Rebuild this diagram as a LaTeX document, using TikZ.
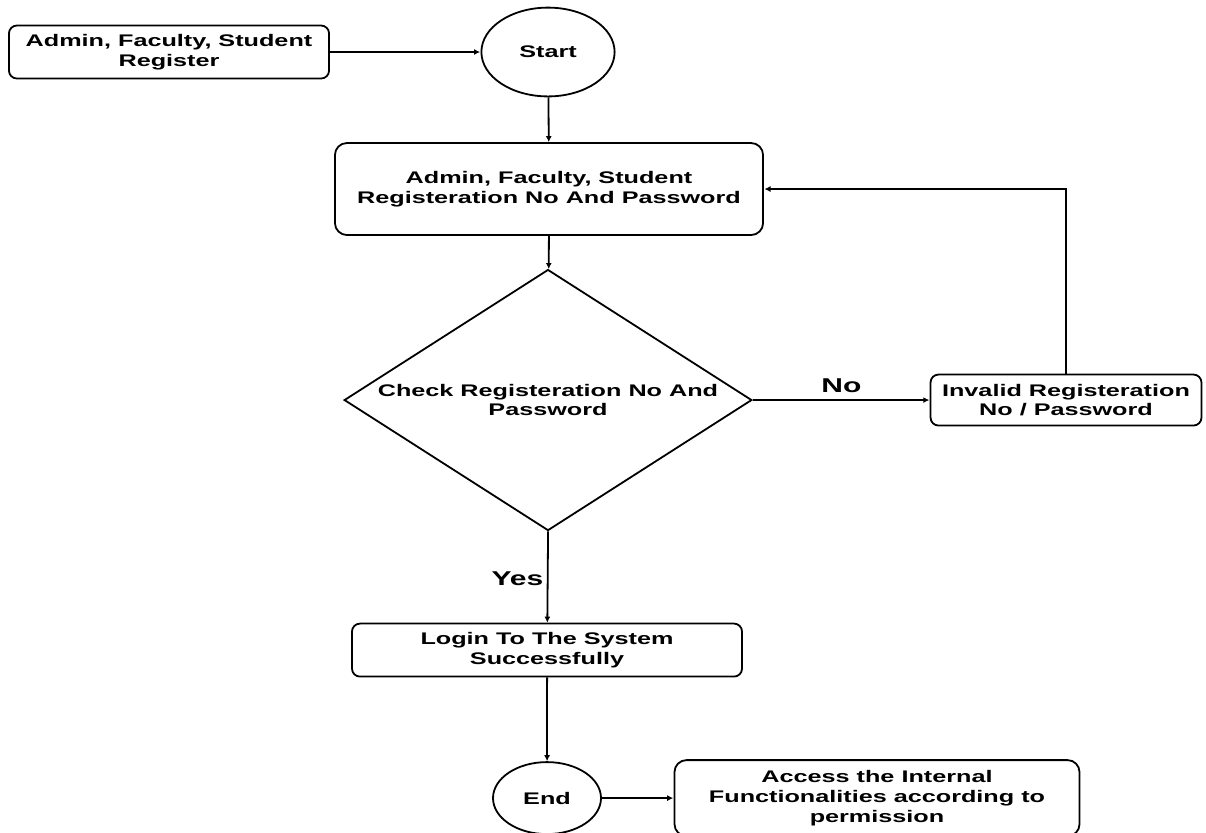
\documentclass[tikz,border=0pt]{standalone}
\usepackage{fontspec}
\setmainfont{Liberation Sans}
\usetikzlibrary{shapes.geometric,arrows.meta}
\newcommand{\boxfont}{\fontsize{8.4}{9.9}\selectfont\bfseries}
\tikzset{
  box/.style={draw, line width=0.9pt, rounded corners=4pt, align=center, inner sep=0pt, font=\boxfont},
  term/.style={draw, circle, line width=0.9pt, inner sep=0pt, font=\boxfont},
  decide/.style={draw, diamond, line width=0.9pt, align=center, inner sep=0pt, font=\boxfont},
  arr/.style={-{Latex[length=3pt,width=3pt]}, line width=0.9pt},
  lbl/.style={font=\fontsize{10}{12}\selectfont\bfseries, inner sep=1pt}
}
\begin{document}
\begin{tikzpicture}[x=0.3333pt, y=-0.5pt, xscale=1.5, transform shape]
            \useasboundingbox (0,0) rectangle (1206,832);
            % boxes
            \node[box, minimum width=106.7pt, minimum height=26.5pt] (reg) at (169,52) {Admin, Faculty, Student\\Register};
            \node[term, minimum size=44.4pt] (start) at (548,52) {Start};
            \node[box, rounded corners=6pt, minimum width=142.7pt, minimum height=46pt] (cred) at (549,189) {Admin, Faculty, Student\\Registeration No And Password};
            \node[decide, minimum width=136pt, minimum height=130.5pt] (chk) at (548,400) {Check Registeration No And\\Password};
            \node[box, minimum width=90.3pt, minimum height=25.5pt] (inv) at (1066,400) {Invalid Registeration\\No / Password};
            \node[box, minimum width=130pt, minimum height=26.5pt] (login) at (547,650) {Login To The System\\Successfully};
            \node[term, minimum size=36pt] (end) at (547,798) {End};
            \node[box, rounded corners=6pt, minimum width=135pt, minimum height=38pt] (acc) at (877,798) {Access the Internal\\Functionalities according to\\permission};
            % connectors
            \draw[arr] (reg) -- (start);
            \draw[arr] (start) -- (cred);
            \draw[arr] (cred) -- (chk);
            \draw[arr] (chk.east) -- node[lbl, above=2pt] {No} (inv);
            \draw[arr] (inv.north) |- (cred.east);
            \draw[arr] (chk.south) -- node[lbl, left, pos=0.52] {Yes} (login);
            \draw[arr] (login) -- (end);
            \draw[arr] (end) -- (acc);
        \end{tikzpicture}
\end{document}
